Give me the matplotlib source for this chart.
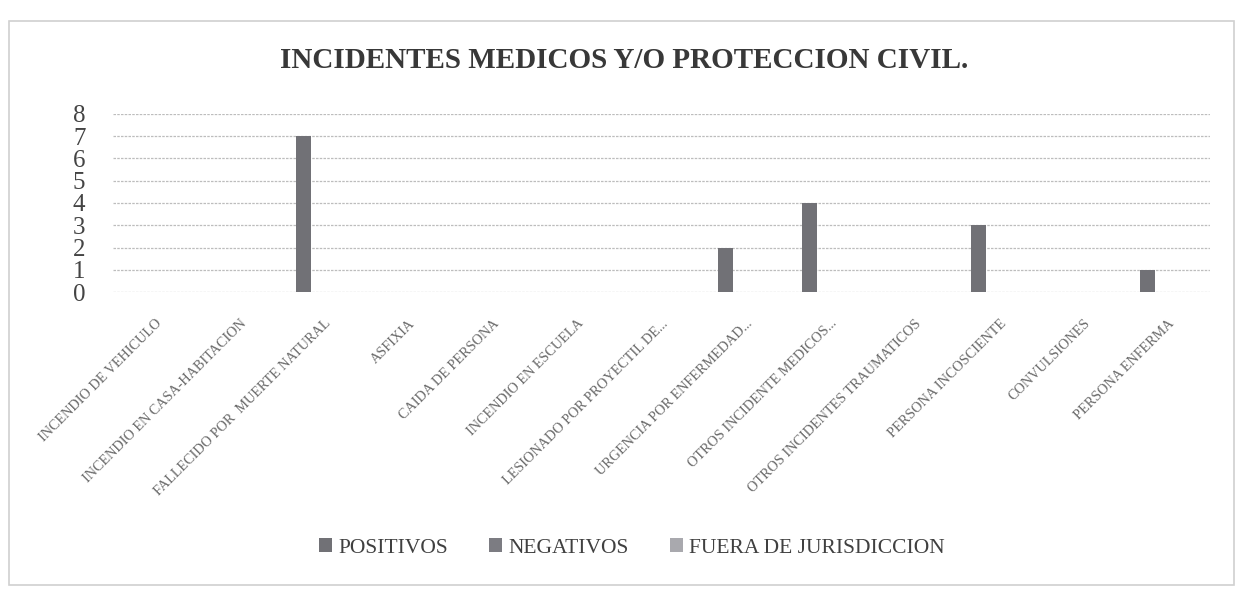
import matplotlib
matplotlib.use('Agg')
import matplotlib.pyplot as plt
import numpy as np
from matplotlib.patches import Rectangle

categorias = ['INCENDIO DE VEHICULO', 'INCENDIO EN CASA-HABITACION',
              'FALLECIDO POR  MUERTE NATURAL', 'ASFIXIA', 'CAIDA DE PERSONA',
              'INCENDIO EN ESCUELA', 'LESIONADO POR PROYECTIL DE...',
              'URGENCIA POR ENFERMEDAD...', 'OTROS INCIDENTE MEDICOS...',
              'OTROS INCIDENTES TRAUMATICOS', 'PERSONA INCOSCIENTE',
              'CONVULSIONES', 'PERSONA ENFERMA']
positivos = [0, 0, 7, 0, 0, 0, 0, 2, 4, 0, 3, 0, 1]
negativos = [0, 0, 0, 0, 0, 0, 0, 0, 0, 0, 0, 0, 0]
fuera = [0, 0, 0, 0, 0, 0, 0, 0, 0, 0, 0, 0, 0]
y_ticks = [0, 1, 2, 3, 4, 5, 6, 7, 8]

serif = ['Liberation Serif', 'DejaVu Serif']

fig = plt.figure(figsize=(12.44, 5.9), dpi=100)
fig.patch.set_facecolor('white')

# outer chart border
fig.add_artist(Rectangle((0.007, 0.008), 0.985, 0.957, transform=fig.transFigure,
                         fill=False, edgecolor='#d0d0d0', linewidth=1.2))

ax = fig.add_axes([0.091, 0.505, 0.882, 0.302])
x = np.arange(len(categorias))
w = 0.18
ax.bar(x - 0.25, positivos, w, color='#717176', label='POSITIVOS')
ax.bar(x, negativos, w, color='#7c7c82', label='NEGATIVOS')
ax.bar(x + 0.25, fuera, w, color='#a9a9ae', label='FUERA DE JURISDICCION')

ax.set_xlim(-0.5, len(categorias) - 0.5)
ax.set_ylim(0, 8)
ax.set_yticks(y_ticks)
ax.set_yticklabels([str(v) for v in y_ticks], fontsize=18, family=serif, color='#444444')
ax.yaxis.grid(True, color='#bdbdbd', linestyle=(0, (2, 1)), linewidth=0.9)
ax.set_axisbelow(True)
for s in ax.spines.values():
    s.set_visible(False)
ax.tick_params(axis='both', length=0)
ax.tick_params(axis='y', pad=20)

ax.set_xticks(x)
ax.set_xticklabels(categorias, rotation=45, ha='right', rotation_mode='anchor',
                   fontsize=10.2, family=serif, color='#6a6a6a')
ax.tick_params(axis='x', pad=18)

fig.text(0.502, 0.898, 'INCIDENTES MEDICOS Y/O PROTECCION CIVIL.', ha='center', va='center',
         fontsize=21, fontweight='bold', family=serif, color='#383838')

fig.legend(loc='center', bbox_to_anchor=(0.508, 0.071), ncol=3, frameon=False,
           prop={'family': serif, 'size': 15.5}, handlelength=0.6, handleheight=0.6,
           handletextpad=0.3, columnspacing=1.9, labelcolor='#404040')

plt.savefig('out.png', dpi=100, facecolor='white')
plt.close()
